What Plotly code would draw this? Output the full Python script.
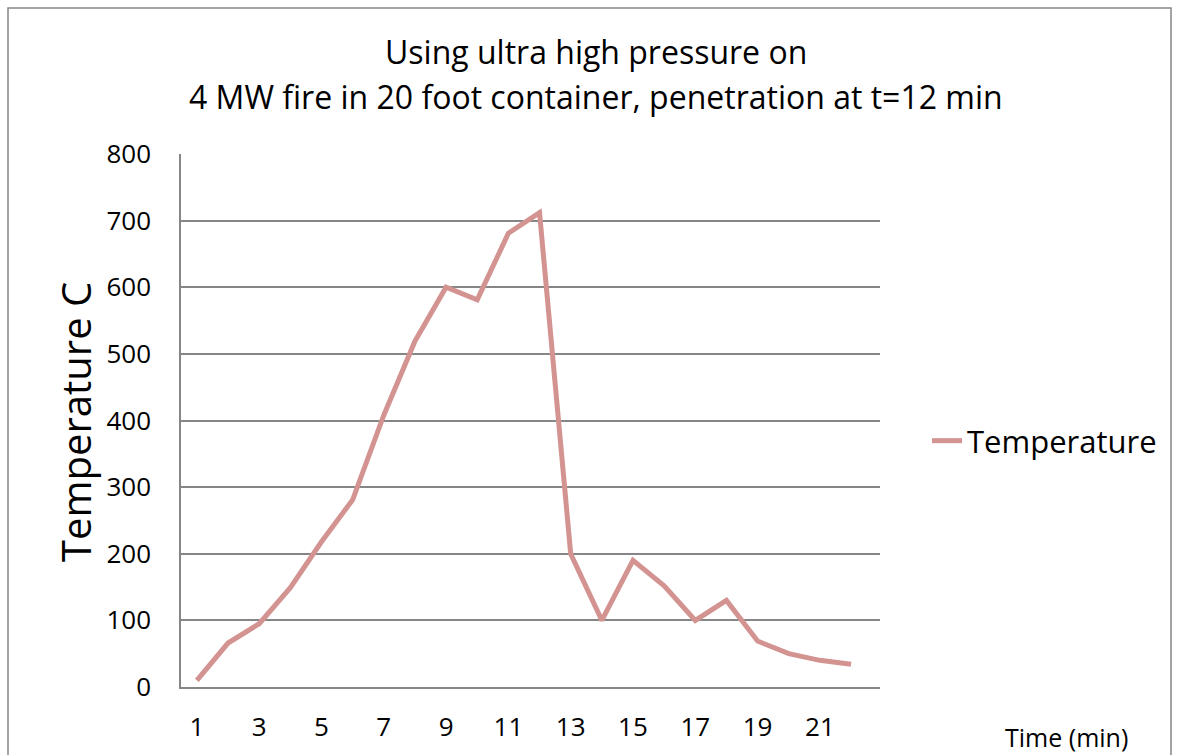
import plotly.graph_objects as go

minutes = [str(i) for i in range(1, 23)]
temperature = [10, 66, 95, 149, 218, 281, 408, 519, 600, 581, 681, 712,
               200, 100, 190, 152, 100, 130, 69, 50, 40, 34]
x_tick_labels = [str(i) for i in range(1, 23, 2)]
y_ticks = [0, 100, 200, 300, 400, 500, 600, 700, 800]
title_line1 = "Using ultra high pressure on"
title_line2 = "4 MW fire in 20 foot container, penetration at t=12 min"

FONT = "Open Sans"
L, R, T, B = 181, 880, 154, 687
W, H = 1177, 755
pw, ph = R - L, B - T

def px(x):
    return (x - L) / pw

def py(y):
    return (B - y) / ph

fig = go.Figure()
fig.add_trace(go.Scatter(
    x=minutes, y=temperature, mode="lines", name="Temperature",
    line=dict(color="#D39391", width=5),
))

fig.update_layout(
    width=W, height=H,
    margin=dict(l=L, r=W - R, t=T, b=H - B, pad=0, autoexpand=False),
    paper_bgcolor="white", plot_bgcolor="white",
    font=dict(family=FONT, color="black"),
    showlegend=True,
    legend=dict(x=px(927), y=py(441), xanchor="left", yanchor="middle",
                font=dict(size=31, family=FONT), bgcolor="rgba(0,0,0,0)"),
    xaxis=dict(
        type="category", range=[-0.51, 21.93], automargin=False,
        tickmode="array", tickvals=x_tick_labels, ticktext=x_tick_labels,
        showgrid=False, showline=True, linecolor="#868686", linewidth=1.5,
        ticks="", tickfont=dict(size=26, family=FONT), ticklabelstandoff=16,
        zeroline=False,
    ),
    yaxis=dict(
        range=[0, 800], tickmode="array", tickvals=y_ticks, automargin=False,
        showgrid=True, gridcolor="#868686", gridwidth=1.5,
        showline=True, linecolor="#868686", linewidth=1.5,
        ticks="", tickfont=dict(size=26, family=FONT), ticklabelstandoff=23,
        zeroline=False,
    ),
    shapes=[dict(type="rect", xref="paper", yref="paper",
                 x0=px(8), x1=px(1171), y0=py(765), y1=py(8),
                 line=dict(color="#868686", width=1.5), fillcolor="rgba(0,0,0,0)",
                 layer="below")],
    annotations=[
        dict(text=title_line1, x=px(596), y=py(51), xref="paper", yref="paper",
             xanchor="center", yanchor="middle", showarrow=False,
             font=dict(size=32, family=FONT)),
        dict(text=title_line2, x=px(596), y=py(96), xref="paper", yref="paper",
             xanchor="center", yanchor="middle", showarrow=False,
             font=dict(size=32, family=FONT)),
        dict(text="Temperature C", x=px(75), y=py(422), xref="paper", yref="paper",
             xanchor="center", yanchor="middle", showarrow=False, textangle=-90,
             font=dict(size=40, family=FONT)),
        dict(text="Time (min)", x=px(1066), y=py(737), xref="paper", yref="paper",
             xanchor="center", yanchor="middle", showarrow=False,
             font=dict(size=25, family=FONT)),
    ],
)

fig.write_html("out.html")
